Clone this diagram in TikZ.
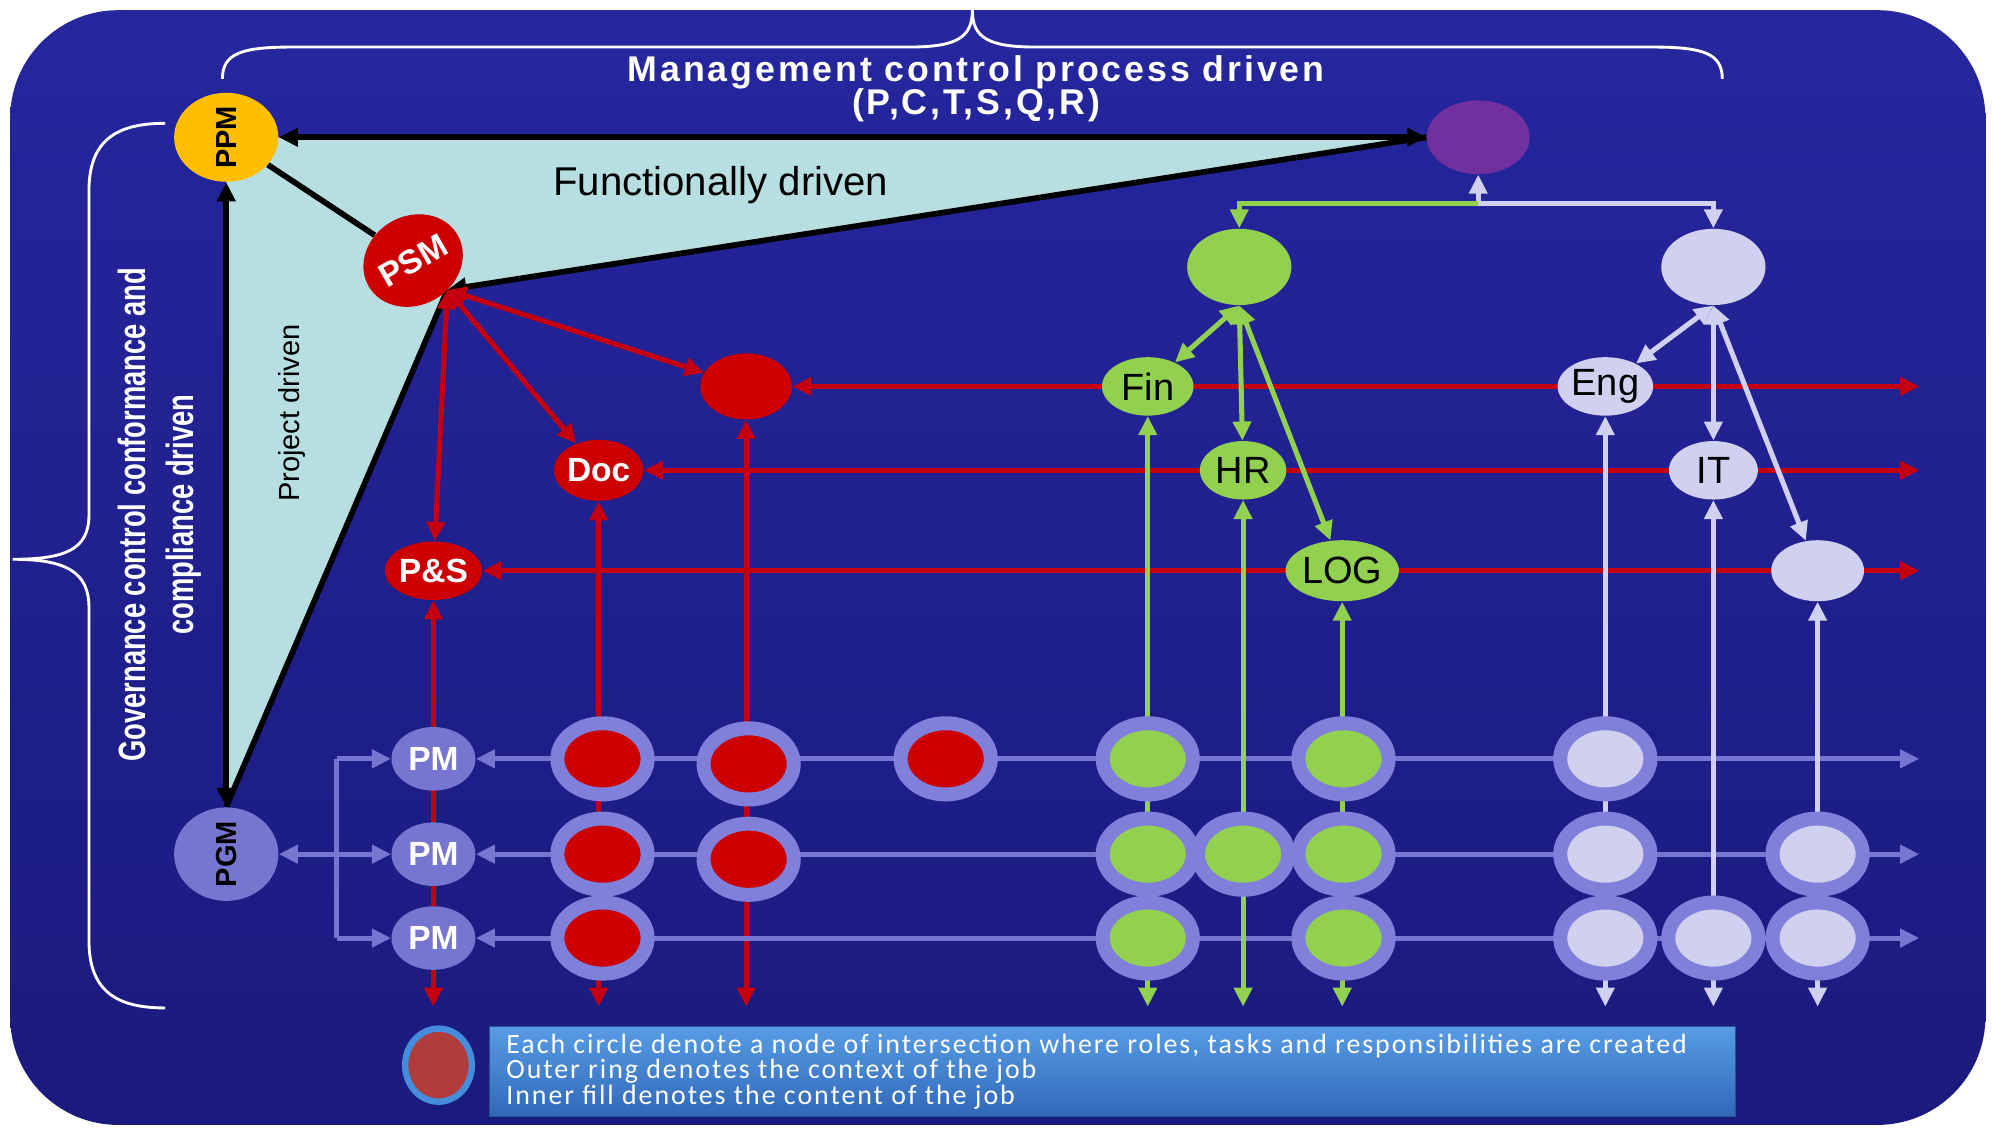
\documentclass[tikz,border=0pt]{standalone}
\usepackage{fontspec}
\setmainfont{Liberation Sans}
\newfontfamily\legfont[LetterSpace=7]{Carlito}
\newfontfamily\ttlfont[LetterSpace=8]{Liberation Sans}
\usetikzlibrary{arrows.meta,shapes.geometric,calc}
\definecolor{navyA}{RGB}{38,38,158}
\definecolor{navyB}{RGB}{26,26,126}
\definecolor{tricyan}{RGB}{183,223,225}
\definecolor{redN}{RGB}{204,0,0}
\definecolor{redL}{RGB}{196,0,16}
\definecolor{greenC}{RGB}{146,208,80}
\definecolor{lavC}{RGB}{208,208,240}
\definecolor{slateC}{RGB}{118,118,208}
\definecolor{slateL}{RGB}{128,128,218}
\definecolor{purpC}{RGB}{112,48,160}
\definecolor{yelC}{RGB}{255,190,0}
\definecolor{legA}{RGB}{88,156,228}
\definecolor{legB}{RGB}{48,104,184}
\definecolor{legRing}{RGB}{70,140,220}
\definecolor{legFill}{RGB}{176,60,60}
\pgfdeclarelayer{back}
\pgfdeclarelayer{lines}
\pgfsetlayers{back,lines,main}
\tikzset{
  blk/.style={draw=black,line width=0.09cm},
  rl/.style={draw=redL,line width=0.08cm},
  gl/.style={draw=greenC,line width=0.08cm},
  ll/.style={draw=lavC,line width=0.08cm},
  sl/.style={draw=slateC,line width=0.08cm},
  brace/.style={draw=white,line width=0.045cm},
  oval/.style 2 args={ellipse,inner sep=0pt,minimum width=#1*0.02cm,minimum height=#2*0.02cm},
  ring/.style={ellipse,inner sep=0pt,draw=slateL,line width=0.22cm,fill=#1,minimum width=1.42cm,minimum height=1.12cm},
  bl/.style={font=\bfseries\fontsize{15}{15}\selectfont},
  bs/.style={font=\bfseries\fontsize{13}{13}\selectfont},
  rg/.style={font=\fontsize{17}{17}\selectfont},
  pmnode/.style={oval={66}{50},fill=slateC,text=white,bl}
}
\begin{document}
\begin{tikzpicture}[x=0.02cm,y=-0.02cm,>={Triangle[length=0.3cm,width=0.28cm]}]
\useasboundingbox (0,0) rectangle (1568,887);
% ---------- nodes ----------
\node[oval={56}{82},rotate=90,fill=yelC,bs] (PPM) at (178,108) {PPM};
\node[oval={81}{58},fill=purpC] (PUR) at (1163,108) {};
\node[oval={76}{70},rotate=30,fill=redN,text=white,bl] (PSM) at (325,205) {PSM};
\node[oval={60}{82},rotate=90,fill=slateC,bs] (PGM) at (178,672) {PGM};
\node[oval={72}{52},fill=redN] (REDC) at (587,304) {};
\node[oval={66}{48},fill=redN,text=white,bl] (DOC) at (471,370) {Doc};
\node[oval={70}{46},fill=redN,text=white,bl] (PS) at (341,449) {P\&S};
\node[oval={82}{60},fill=greenC] (GB) at (975,210) {};
\node[oval={82}{60},fill=lavC] (LB) at (1348,210) {};
\node[oval={72}{46},fill=greenC,rg] (FIN) at (903,304) {Fin};
\node[oval={68}{46},fill=greenC,rg] (HR) at (978,370) {HR};
\node[oval={72}{48},fill=greenC,rg] (LOG) at (1056,449) {LOG};
\node[oval={72}{46},fill=lavC,rg] (ENG) at (1263,304) {Eng};
\node[oval={70}{46},fill=lavC,rg] (IT) at (1348,370) {IT};
\node[oval={73}{48},fill=lavC] (LV3) at (1430,449) {};
\node[pmnode] (PM1) at (341,597) {PM};
\node[pmnode] (PM2) at (341,672) {PM};
\node[pmnode] (PM3) at (341,738) {PM};
% rings row 1
\node[ring=redN] (A1) at (474,597) {};
\node[ring=redN] (A2) at (589,601) {};
\node[ring=redN] (A3) at (744,597) {};
\node[ring=greenC] (A4) at (903,597) {};
\node[ring=greenC] (A5) at (1057,597) {};
\node[ring=lavC] (A6) at (1263,597) {};
% rings row 2
\node[ring=redN] (B1) at (474,672) {};
\node[ring=redN] (B2) at (589,676) {};
\node[ring=greenC] (B3) at (903,672) {};
\node[ring=greenC] (B4) at (978,672) {};
\node[ring=greenC] (B5) at (1057,672) {};
\node[ring=lavC] (B6) at (1263,672) {};
\node[ring=lavC] (B7) at (1430,672) {};
% rings row 3
\node[ring=redN] (C1) at (474,738) {};
\node[ring=greenC] (C2) at (903,738) {};
\node[ring=greenC] (C3) at (1057,738) {};
\node[ring=lavC] (C4) at (1263,738) {};
\node[ring=lavC] (C5) at (1348,738) {};
\node[ring=lavC] (C6) at (1430,738) {};
% legend
\node[ellipse,inner sep=0pt,draw=legRing,line width=0.1cm,fill=legFill,minimum width=1.05cm,minimum height=1.15cm] (LEG) at (345,838) {};
\node[anchor=north west,inner sep=0pt,draw=legB!80!black,top color=legA,bottom color=legB,minimum width=19.6cm,minimum height=1.42cm] (BOX) at (385,807) {};
\node[anchor=west,align=left,text=white,inner sep=0pt,font=\legfont\fontsize{12.5}{11.4}\selectfont] (LT) at (398,843) {Each circle denote a node of intersection where roles, tasks and responsibilities are created\\Outer ring denotes the context of the job\\Inner fill denotes the content of the job};
% texts
\node[text=white,align=center,font=\ttlfont\bfseries\fontsize{16}{15}\selectfont] (TTL) at (768,70) {Management control process driven\\(P,C,T,S,Q,R)};
\node[text=white,rotate=90,align=center,font=\bfseries\fontsize{17}{21.5}\selectfont] (GOV) at (126,405) {\scalebox{0.72}[1]{Governance control conformance and}\\\scalebox{0.72}[1]{compliance driven}};
\node[font=\fontsize{18}{18}\selectfont] (FD) at (567,146) {Functionally driven};
\node[rotate=90,font=\fontsize{13}{13}\selectfont] (PD) at (230,325) {Project driven};
% coordinates
\coordinate (right) at (1510,0);
\coordinate (bot) at (0,792);
\coordinate (J) at (1163,160);
\coordinate (bx) at (265,672);
\coordinate (hub) at (352,228);
% ---------- background ----------
\begin{pgfonlayer}{back}
\shade[top color=navyA,bottom color=navyB,rounded corners=1.7cm] (8,8) rectangle (1562,885);
\fill[tricyan] (PPM.center) -- (PUR.west) -- (hub) -- (PGM.east) -- cycle;
\draw[brace] (175,62) .. controls (175,42) and (190,37) .. (230,37) -- (715,37) .. controls (752,37) and (765,30) .. (765,8) .. controls (765,30) and (778,37) .. (815,37) -- (1300,37) .. controls (1340,37) and (1355,42) .. (1355,62);
\draw[brace] (130,97) .. controls (92,97) and (70,110) .. (70,150) -- (70,405) .. controls (70,432) and (52,440) .. (10,440) .. controls (52,440) and (70,450) .. (70,478) -- (70,740) .. controls (70,780) and (92,793) .. (130,793);
\end{pgfonlayer}
% ---------- connectors ----------
\begin{pgfonlayer}{lines}
% black triangle
\draw[blk,<->] (PPM) -- (PUR);
\draw[blk,<->] (PPM) -- (PGM);
\draw[blk] (PPM) -- (PSM);
\draw[blk] (hub) -- (PGM.east);
\draw[blk,->] (PUR.west) -- (hub);
% red from PSM
\draw[rl,<->] (hub) -- (REDC);
\draw[rl,<->] (hub) -- (DOC);
\draw[rl,<->] (hub) -- (PS);
% red horizontals
\draw[rl,<->] (REDC) -- (REDC -| right);
\draw[rl,<->] (DOC) -- (DOC -| right);
\draw[rl,<->] (PS) -- (PS -| right);
% red verticals
\draw[rl,<->] (PS) -- (PS |- bot);
\draw[rl,<->] (DOC) -- (DOC |- bot);
\draw[rl,<->] (REDC) -- (REDC |- bot);
% grid rows
\draw[sl,<->] (PM1) -- (PM1 -| right);
\draw[sl,<->] (PM2) -- (PM2 -| right);
\draw[sl,<->] (PM3) -- (PM3 -| right);
\draw[sl,<->] (PGM) -- (PM2);
\draw[sl] (bx |- PM1) -- (bx |- PM3);
\draw[sl,->] (bx |- PM1) -- (PM1);
\draw[sl,->] (bx |- PM3) -- (PM3);
% from purple
\draw[ll,->] (J) -- (PUR);
\draw[gl,->] (J) -| (GB);
\draw[ll,->] (J) -| (LB);
% green branch
\draw[gl,<->] (GB.south) -- (FIN);
\draw[gl,<->] (GB.south) -- (HR);
\draw[gl,<->] (GB.south) -- (LOG);
\draw[gl,<->] (FIN) -- (FIN |- bot);
\draw[gl,<->] (HR) -- (HR |- bot);
\draw[gl,<->] (LOG) -- (LOG |- bot);
% lavender branch
\draw[ll,<->] (LB.south) -- (ENG);
\draw[ll,<->] (LB.south) -- (IT);
\draw[ll,<->] (LB.south) -- (LV3);
\draw[ll,<->] (ENG) -- (ENG |- bot);
\draw[ll,<->] (IT) -- (IT |- bot);
\draw[ll,<->] (LV3) -- (LV3 |- bot);
\end{pgfonlayer}
\end{tikzpicture}
\end{document}
